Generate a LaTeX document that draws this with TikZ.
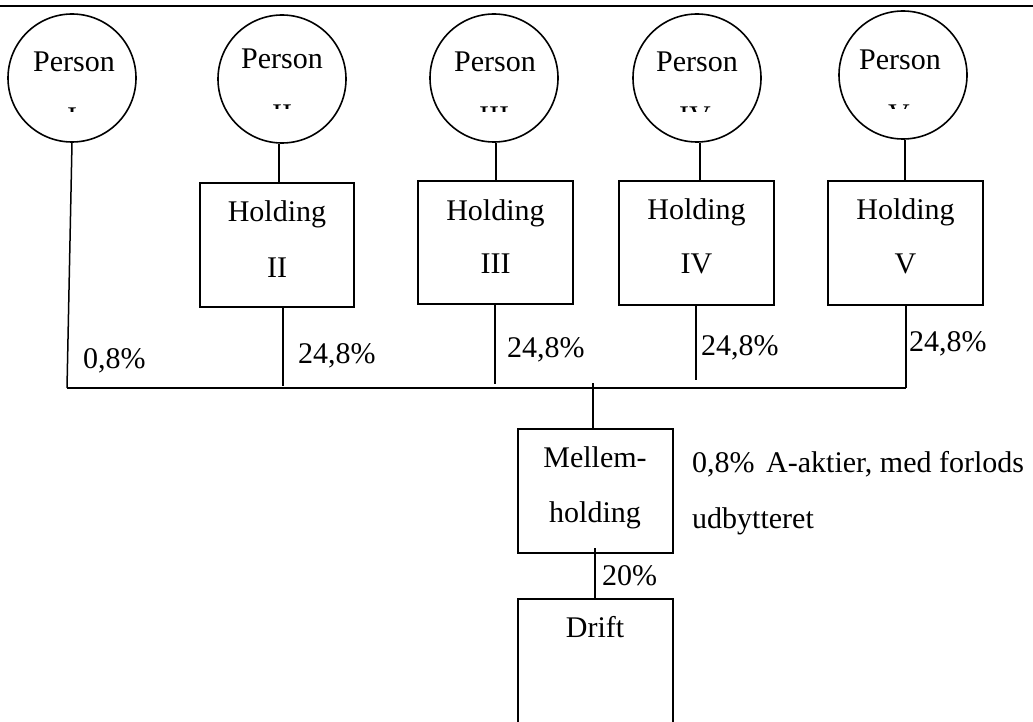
\documentclass[tikz,border=0pt]{standalone}
\usepackage{fontspec}
\setmainfont{Liberation Serif}
\begin{document}
\begin{tikzpicture}[x=1pt,y=-1pt,
  txt/.style={inner sep=0pt,anchor=base,font=\fontsize{30}{55}\selectfont},
  pcirc/.style={draw,circle,line width=1.6pt,minimum size=128pt,inner sep=0pt},
  box/.style={draw,rectangle,line width=1.6pt,inner sep=0pt},
  conn/.style={line width=1.5pt}]
\useasboundingbox (0,0) rectangle (1033,722);
\clip (0,0) rectangle (1033,722);

% rule across the top
\coordinate (ruleL) at (0,6);
\coordinate (ruleR) at (1033,6);
\draw[line width=2.6pt] (ruleL) -- (ruleR);

% owners
\node[pcirc] (p1) at (72,78) {};
\node[pcirc] (p2) at (282,79) {};
\node[pcirc] (p3) at (494,78) {};
\node[pcirc] (p4) at (697,78) {};
\node[pcirc] (p5) at (903,75) {};
\node[txt] (p1t) at (74,72) {Person};
\node[txt] (p2t) at (282,69) {Person};
\node[txt] (p3t) at (495,72) {Person};
\node[txt] (p4t) at (697,72) {Person};
\node[txt] (p5t) at (900,70) {Person};
% numerals, only their tops show inside the circles
\begin{scope}
  \clip (0,0) rectangle (1033,111.5);
  \node[txt] (p1n) at (72,127.5) {I};
  \node[txt] (p3n) at (494,126.5) {III};
  \node[txt] (p4n) at (695,126.5) {IV};
\end{scope}
\begin{scope}
  \clip (0,0) rectangle (1033,108.5);
  \node[txt] (p2n) at (282,124.5) {II};
  \node[txt] (p5n) at (899,124.5) {V};
\end{scope}

% holding companies
\node[box,minimum width=154pt,minimum height=124pt] (h2) at (277,245) {};
\node[box,minimum width=155pt,minimum height=123pt] (h3) at (495.5,242.5) {};
\node[box,minimum width=155pt,minimum height=124pt] (h4) at (696.5,243) {};
\node[box,minimum width=155pt,minimum height=124pt] (h5) at (905.5,243) {};
\node[txt] (h2a) at (277,222) {Holding};
\node[txt] (h2b) at (277,277) {II};
\node[txt] (h3a) at (495.5,220) {Holding};
\node[txt] (h3b) at (495.5,273) {III};
\node[txt] (h4a) at (696.5,219) {Holding};
\node[txt] (h4b) at (696.5,273) {IV};
\node[txt] (h5a) at (905.5,219) {Holding};
\node[txt] (h5b) at (905.5,273) {V};

% owner to holding
\coordinate (u2) at (279,0);
\coordinate (u3) at (496,0);
\coordinate (u4) at (700,0);
\coordinate (u5) at (905,0);
\draw[conn] (p2.south -| u2) -- (h2.north -| u2);
\draw[conn] (p3.south -| u3) -- (h3.north -| u3);
\draw[conn] (p4.south -| u4) -- (h4.north -| u4);
\draw[conn] (p5.south -| u5) -- (h5.north -| u5);

% common bar
\coordinate (b1) at (67,388);
\coordinate (b2) at (283,386);
\coordinate (b3) at (495,384);
\coordinate (b4) at (696,380);
\coordinate (b5) at (906,388);
\coordinate (bm) at (593,383);
\draw[conn] (p1.south) -- (b1);
\draw[conn] (b2 |- h2.south) -- (b2);
\draw[conn] (b3 |- h3.south) -- (b3);
\draw[conn] (b4 |- h4.south) -- (b4);
\draw[conn] (b5 |- h5.south) -- (b5);
\draw[conn] (b1) -- (b5);

% share labels
\node[txt,anchor=base west] (s1) at (83,368) {0,8\%};
\node[txt,anchor=base west] (s2) at (298,363) {24,8\%};
\node[txt,anchor=base west] (s3) at (507,357) {24,8\%};
\node[txt,anchor=base west] (s4) at (701,355) {24,8\%};
\node[txt,anchor=base west] (s5) at (909,351) {24,8\%};

% intermediate holding
\node[box,minimum width=155pt,minimum height=124pt] (m) at (595.5,491) {};
\node[txt] (ma) at (595,467) {Mellem-};
\node[txt] (mb) at (595,522) {holding};
\draw[conn] (bm) -- (bm |- m.north);
\node[txt,anchor=base west] (na) at (692,472) {0,8\%};
\node[txt,anchor=base west] (nb) at (766,472) {A-aktier, med forlods};
\node[txt,anchor=base west] (nc) at (692,528) {udbytteret};

% operating company
\node[box,minimum width=155pt,minimum height=160pt] (d) at (595.5,679) {};
\node[txt] (da) at (595,637) {Drift};
\coordinate (dm) at (595,548);
\draw[conn] (dm) -- (dm |- d.north);
\node[txt,anchor=base west] (dp) at (602,585) {20\%};
\end{tikzpicture}
\end{document}
